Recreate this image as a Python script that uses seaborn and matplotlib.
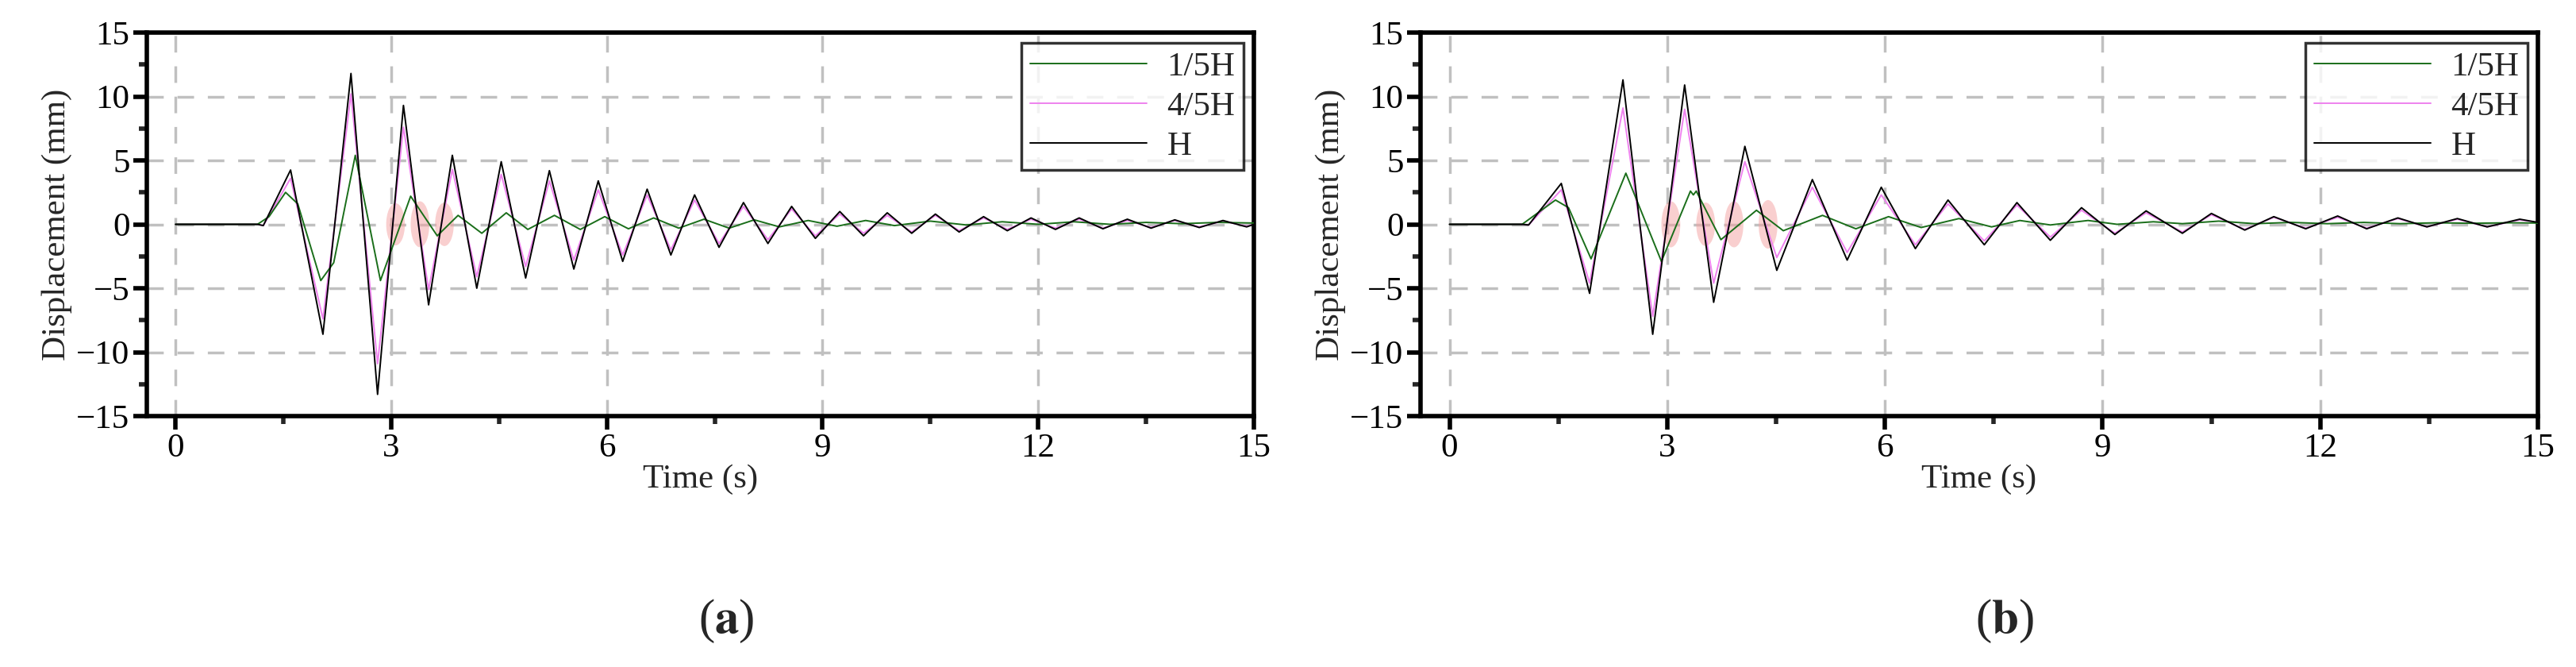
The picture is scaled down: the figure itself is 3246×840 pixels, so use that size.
import numpy as np
import pandas as pd
import matplotlib
matplotlib.use("Agg")
import matplotlib.pyplot as plt
import seaborn as sns
from matplotlib.patches import Ellipse

a_H_t = [0, 1.14, 1.22, 1.60, 2.05, 2.44, 2.81, 3.17, 3.52, 3.85, 4.19, 4.53, 4.87, 5.20, 5.54, 5.88, 6.22, 6.56, 6.89, 7.22, 7.56, 7.90, 8.24, 8.57, 8.90, 9.24, 9.57, 9.90, 10.24, 10.57, 10.90, 11.24, 11.57, 11.90, 12.24, 12.57, 12.90, 13.24, 13.57, 13.90, 14.24, 14.57, 14.9, 15]
a_H_v = [0, 0, -0.1, 4.25, -8.6, 11.8, -13.3, 9.3, -6.3, 5.4, -5.0, 4.9, -4.2, 4.2, -3.5, 3.4, -2.9, 2.75, -2.4, 2.3, -1.8, 1.7, -1.5, 1.4, -1.1, 1.0, -0.9, 0.9, -0.7, 0.8, -0.6, 0.6, -0.5, 0.5, -0.4, 0.5, -0.35, 0.4, -0.3, 0.35, -0.25, 0.3, -0.2, 0]
a_M_v = [0, 0, -0.1, 3.6, -7.4, 10.2, -10.9, 7.6, -5.1, 4.3, -4.1, 3.9, -3.3, 3.4, -2.8, 2.7, -2.4, 2.3, -2.0, 1.9, -1.5, 1.4, -1.2, 1.2, -0.9, 0.8, -0.7, 0.7, -0.6, 0.7, -0.5, 0.5, -0.4, 0.4, -0.3, 0.4, -0.3, 0.3, -0.25, 0.3, -0.2, 0.25, -0.15, 0]
a_L_t = [0, 1.14, 1.3, 1.53, 1.7, 2.02, 2.2, 2.50, 2.85, 3.27, 3.64, 3.93, 4.26, 4.60, 4.90, 5.27, 5.63, 5.97, 6.30, 6.65, 7.0, 7.35, 7.7, 8.05, 8.4, 8.8, 9.2, 9.6, 10.0, 10.5, 11.0, 11.5, 12.0, 12.5, 13.0, 13.5, 14.0, 14.5, 15]
a_L_v = [0, 0, 0.6, 2.5, 1.6, -4.4, -3.0, 5.4, -4.4, 2.2, -0.9, 0.7, -0.7, 0.9, -0.4, 0.7, -0.4, 0.6, -0.35, 0.5, -0.3, 0.4, -0.3, 0.35, -0.2, 0.3, -0.15, 0.3, -0.1, 0.25, -0.05, 0.2, 0.0, 0.2, 0.0, 0.15, 0.05, 0.15, 0.1]

b_H_t = [0, 1.0, 1.09, 1.54, 1.93, 2.39, 2.80, 3.24, 3.64, 4.07, 4.51, 5.00, 5.48, 5.95, 6.42, 6.87, 7.37, 7.82, 8.28, 8.71, 9.17, 9.60, 10.1, 10.5, 10.96, 11.36, 11.8, 12.24, 12.64, 13.07, 13.47, 13.89, 14.3, 14.75, 15]
b_H_v = [0, 0, -0.05, 3.2, -5.4, 11.3, -8.6, 10.9, -6.1, 6.1, -3.6, 3.5, -2.8, 2.9, -1.9, 1.9, -1.6, 1.7, -1.25, 1.3, -0.8, 1.05, -0.7, 0.85, -0.45, 0.6, -0.35, 0.65, -0.35, 0.5, -0.2, 0.45, -0.2, 0.4, 0.15]
b_M_v = [0, 0, -0.05, 2.7, -4.6, 9.1, -7.2, 9.0, -4.6, 4.9, -2.6, 2.9, -2.2, 2.3, -1.6, 1.6, -1.3, 1.5, -1.0, 1.1, -0.7, 0.9, -0.6, 0.75, -0.4, 0.55, -0.3, 0.55, -0.3, 0.45, -0.2, 0.4, -0.2, 0.35, 0.15]
b_L_t = [0, 1.0, 1.46, 1.64, 1.95, 2.43, 2.92, 3.32, 3.36, 3.40, 3.74, 4.23, 4.60, 5.14, 5.60, 6.05, 6.50, 7.02, 7.47, 7.86, 8.28, 8.80, 9.20, 9.70, 10.1, 10.6, 11.1, 11.6, 12.1, 12.6, 13.1, 13.6, 14.1, 14.6, 15]
b_L_v = [0, 0, 1.9, 1.3, -2.7, 4.0, -2.9, 2.6, 2.3, 2.6, -1.2, 1.1, -0.5, 0.7, -0.35, 0.6, -0.25, 0.45, -0.2, 0.3, -0.05, 0.3, 0.0, 0.2, 0.05, 0.25, 0.05, 0.15, 0.05, 0.15, 0.05, 0.12, 0.08, 0.12, 0.1]

a_marks_t = [3.06, 3.40, 3.74]
a_marks_h = [3.3, 3.6, 3.4]
b_marks_t = [3.05, 3.53, 3.92, 4.39]
b_marks_h = [3.6, 3.4, 3.6, 3.8]

series_labels = ["1/5H", "4/5H", "H"]
panel_labels = ["a", "b"]
x_ticks = [0, 3, 6, 9, 12, 15]
y_ticks = [-15, -10, -5, 0, 5, 10, 15]

colors = {"1/5H": "#1a6e1a", "4/5H": "#ee82ee", "H": "#000000"}

sns.set_theme(style="white")
plt.rcParams["font.family"] = ["Liberation Serif", "DejaVu Serif"]
plt.rcParams["mathtext.fontset"] = "stix"

fig = plt.figure(figsize=(32.46, 8.4), dpi=100)
ax_a = fig.add_axes([185/3246, 1-524/840, (1580-185)/3246, (524-41)/840])
ax_b = fig.add_axes([1790/3246, 1-524/840, (3198-1790)/3246, (524-41)/840])

def frame(t1, v1, tm, vm, t3, v3):
    dfs = [pd.DataFrame({"t": t1, "v": v1, "s": series_labels[0]}),
           pd.DataFrame({"t": tm, "v": vm, "s": series_labels[1]}),
           pd.DataFrame({"t": t3, "v": v3, "s": series_labels[2]})]
    return pd.concat(dfs, ignore_index=True)

data = [
    (ax_a, frame(a_L_t, a_L_v, a_H_t, a_M_v, a_H_t, a_H_v), a_marks_t, a_marks_h),
    (ax_b, frame(b_L_t, b_L_v, b_H_t, b_M_v, b_H_t, b_H_v), b_marks_t, b_marks_h),
]

for i, (ax, df, mt, mh) in enumerate(data):
    for xt, h in zip(mt, mh):
        ax.add_patch(Ellipse((xt, 0), 0.26, h, facecolor="#f4a0a0", alpha=0.5, edgecolor="none", zorder=1))
    for lab in series_labels:
        sub = df[df.s == lab]
        sns.lineplot(x=sub.t, y=sub.v, ax=ax, color=colors[lab], lw=1.4, label=lab,
                     sort=False, estimator=None, zorder=3 if lab != "4/5H" else 2.5)
    ax.set_xlim(-0.4, 15)
    ax.set_ylim(-15, 15)
    ax.set_xticks(x_ticks)
    ax.set_yticks(y_ticks)
    ax.set_xticks([1.5, 4.5, 7.5, 10.5, 13.5], minor=True)
    ax.set_yticks(np.arange(-12.5, 15, 5), minor=True)
    ax.set_yticklabels(["\u221215", "\u221210", "\u22125", "0", "5", "10", "15"])
    ax.grid(True, which="major", color="#c0c0c0", ls=(0, (6, 5)), lw=2.5)
    for sp in ax.spines.values():
        sp.set_linewidth(4)
        sp.set_color("black")
    ax.tick_params(which="major", direction="out", length=12, width=4, labelsize=31, colors="black", left=True, bottom=True)
    ax.tick_params(which="minor", direction="out", length=7, width=4, left=True, bottom=True)
    ax.set_xlabel("Time (s)", fontsize=31, labelpad=0)
    ax.set_ylabel("Displacement (mm)", fontsize=31, labelpad=4)
    leg = ax.legend(loc="upper right", fontsize=31, frameon=True, fancybox=False,
                    handlelength=3.4, borderaxespad=0.3, labelspacing=0.25, borderpad=0.25,
                    handletextpad=0.6)
    leg.get_frame().set_edgecolor("black")
    leg.get_frame().set_linewidth(2.5)
    pos = ax.get_position()
    fig.text(pos.x0 + pos.width/2 + 0.01, 1-782/840, "(" + r"$\mathbf{" + panel_labels[i] + "}$" + ")",
             fontsize=44, ha="center", va="center")

fig.savefig("out.png", dpi=100)
